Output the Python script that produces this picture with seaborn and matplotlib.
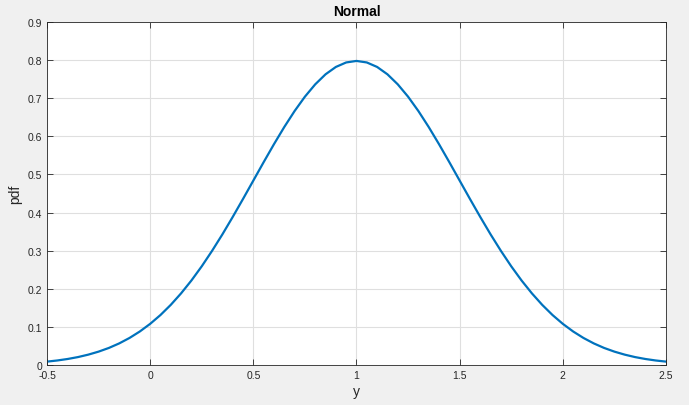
import numpy as np
import pandas as pd
import matplotlib
matplotlib.use('Agg')
import matplotlib.pyplot as plt
import seaborn as sns

# values
y_vals = [-0.5, -0.45, -0.4, -0.35, -0.3, -0.25, -0.2, -0.15, -0.1, -0.05,
          0.0, 0.05, 0.1, 0.15, 0.2, 0.25, 0.3, 0.35, 0.4, 0.45,
          0.5, 0.55, 0.6, 0.65, 0.7, 0.75, 0.8, 0.85, 0.9, 0.95,
          1.0, 1.05, 1.1, 1.15, 1.2, 1.25, 1.3, 1.35, 1.4, 1.45,
          1.5, 1.55, 1.6, 1.65, 1.7, 1.75, 1.8, 1.85, 1.9, 1.95,
          2.0, 2.05, 2.1, 2.15, 2.2, 2.25, 2.3, 2.35, 2.4, 2.45, 2.5]
pdf_vals = [0.0089, 0.0119, 0.0158, 0.0208, 0.0272, 0.0351, 0.0448, 0.0567,
            0.0710, 0.0880, 0.1080, 0.1312, 0.1579, 0.1881, 0.2218, 0.2590,
            0.2995, 0.3427, 0.3884, 0.4357, 0.4839, 0.5322, 0.5794, 0.6245,
            0.6664, 0.7041, 0.7365, 0.7628, 0.7821, 0.7939, 0.7979,
            0.7939, 0.7821, 0.7628, 0.7365, 0.7041, 0.6664, 0.6245, 0.5794,
            0.5322, 0.4839, 0.4357, 0.3884, 0.3427, 0.2995, 0.2590, 0.2218,
            0.1881, 0.1579, 0.1312, 0.1080, 0.0880, 0.0710, 0.0567, 0.0448,
            0.0351, 0.0272, 0.0208, 0.0158, 0.0119, 0.0089]
x_ticks = [-0.5, 0, 0.5, 1, 1.5, 2, 2.5]
x_tick_labels = ['-0.5', '0', '0.5', '1', '1.5', '2', '2.5']
y_ticks = [0, 0.1, 0.2, 0.3, 0.4, 0.5, 0.6, 0.7, 0.8, 0.9]
y_tick_labels = ['0', '0.1', '0.2', '0.3', '0.4', '0.5', '0.6', '0.7', '0.8', '0.9']

df = pd.DataFrame({'y': y_vals, 'pdf': pdf_vals})

sns.set_theme(style='ticks')
plt.rcParams['font.family'] = ['Liberation Sans', 'DejaVu Sans']

fig = plt.figure(figsize=(6.89, 4.06), dpi=100, facecolor='#f0f0f0')
ax = fig.add_axes([0.0682, 0.0985, 0.8984, 0.8448])
ax.set_facecolor('white')

sns.lineplot(data=df, x='y', y='pdf', ax=ax, color='#0072BD', linewidth=1.6)

ax.set_xlim(-0.5, 2.5)
ax.set_ylim(0, 0.9)
ax.set_xticks(x_ticks)
ax.set_xticklabels(x_tick_labels)
ax.set_yticks(y_ticks)
ax.set_yticklabels(y_tick_labels)
ax.grid(True, color='#dfdfdf', linewidth=0.8)
ax.set_axisbelow(True)
ax.tick_params(direction='in', length=4, width=0.6, labelsize=7.5, colors='#262626',
               top=True, right=True)
for s in ax.spines.values():
    s.set_visible(True)
    s.set_linewidth(0.6)
    s.set_color('#262626')

ax.set_xlabel('y', fontsize=10, color='#262626', labelpad=3)
ax.set_ylabel('pdf', fontsize=10, color='#262626', labelpad=4)
ax.set_title('Normal', fontsize=10, fontweight='bold', color='black', pad=5)

fig.savefig('out.png', dpi=100, facecolor=fig.get_facecolor())
